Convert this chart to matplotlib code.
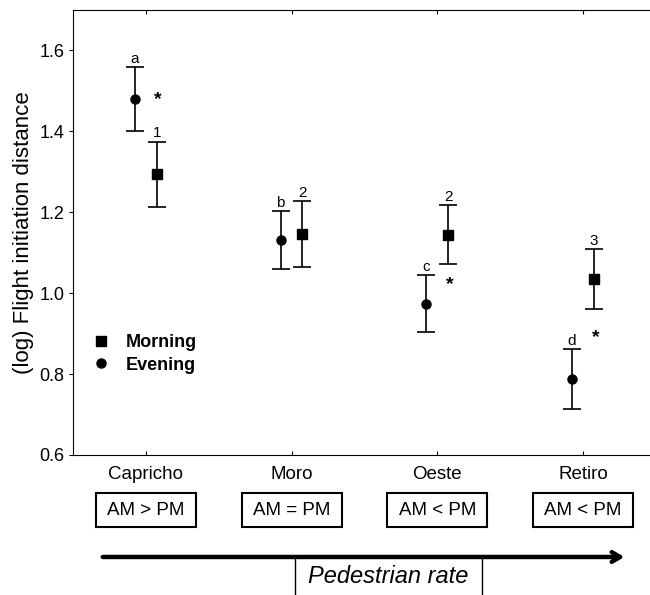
import numpy as np
import matplotlib
matplotlib.use('Agg')
from matplotlib import pyplot as plt
from matplotlib.lines import Line2D
from matplotlib.patches import Rectangle
import matplotlib.transforms as mtransforms

plt.rcParams['font.family'] = ['Liberation Sans', 'DejaVu Sans']

# values (log FID, mean +/- error)
sites = ['Capricho', 'Moro', 'Oeste', 'Retiro']
morning_mean = [1.294, 1.146, 1.144, 1.035]
morning_err = [0.080, 0.081, 0.073, 0.074]
evening_mean = [1.479, 1.131, 0.974, 0.787]
evening_err = [0.079, 0.072, 0.071, 0.074]
morning_letters = ['1', '2', '2', '3']
evening_letters = ['a', 'b', 'c', 'd']
star_y = [1.478, None, 1.020, 0.889]
comparison = ['AM > PM', 'AM = PM', 'AM < PM', 'AM < PM']
yticks = [0.6, 0.8, 1.0, 1.2, 1.4, 1.6]

fig = plt.figure(figsize=(6.5, 5.95), dpi=100)
ax = fig.add_axes([0.1123, 0.2353, 0.8877, 0.748])

x = np.arange(len(sites))
off = 0.075
ebkw = dict(color='black', capsize=6.5, elinewidth=1.2, capthick=1.2, ls='none')
ax.errorbar(x + off, morning_mean, yerr=morning_err, fmt='s', ms=6.5, **ebkw)
ax.errorbar(x - off, evening_mean, yerr=evening_err, fmt='o', ms=6.5, **ebkw)

for i in range(len(sites)):
    ax.annotate(morning_letters[i], (x[i] + off, morning_mean[i] + morning_err[i]),
                xytext=(0, 1), textcoords='offset points', ha='center', va='bottom', fontsize=11)
    ax.annotate(evening_letters[i], (x[i] - off, evening_mean[i] + evening_err[i]),
                xytext=(0, 1), textcoords='offset points', ha='center', va='bottom', fontsize=11)
    if star_y[i] is not None:
        ax.text(x[i] + off + 0.01, star_y[i], '*', ha='center', va='center',
                fontsize=14, fontweight='bold')

ax.set_xlim(-0.5, 3.46)
ax.set_ylim(0.6, 1.7)
ax.set_xticks(x)
ax.set_xticklabels(sites, fontsize=13.5)
ax.set_yticks(yticks)
ax.set_yticklabels(['%.1f' % t for t in yticks], fontsize=13)
ax.tick_params(axis='x', direction='in', top=True, length=3, pad=8)
ax.tick_params(axis='y', direction='out', length=3, pad=3)
ax.spines['right'].set_visible(False)
ax.set_ylabel('(log) Flight initiation distance', fontsize=16)
ax.yaxis.set_label_coords(-0.068, 0.5)

handles = [Line2D([], [], marker='s', color='black', ls='none', ms=6.5),
           Line2D([], [], marker='o', color='black', ls='none', ms=6.5)]
ax.legend(handles, ['Morning', 'Evening'], loc='center left', bbox_to_anchor=(0.004, 0.227),
          frameon=False, handletextpad=0.9, handlelength=1.0, labelspacing=0.3,
          prop={'weight': 'bold', 'size': 13})

# comparison boxes under each site
trans = mtransforms.blended_transform_factory(ax.transData, ax.transAxes)
for i, lbl in enumerate(comparison):
    ax.add_patch(Rectangle((x[i] - 0.343, -0.1618), 0.687, 0.0764, transform=trans,
                           clip_on=False, fill=False, lw=1.5, edgecolor='black'))
    ax.text(x[i], -0.1236, lbl, transform=trans, ha='center', va='center', fontsize=13.5)

# pedestrian rate arrow
ax.annotate('', xy=(0.965, 0.0639), xytext=(0.1538, 0.0639), xycoords='figure fraction',
            arrowprops=dict(arrowstyle='->,head_length=0.6,head_width=0.35', lw=3.2, color='black'))
fig.add_artist(Rectangle((0.4538, -0.01), 0.2877, 0.0739, transform=fig.transFigure,
                         fill=False, lw=1.0, edgecolor='black'))
fig.text(0.597, 0.031, 'Pedestrian rate', ha='center', va='center', fontsize=17, style='italic')

fig.savefig('out.png', dpi=100)
